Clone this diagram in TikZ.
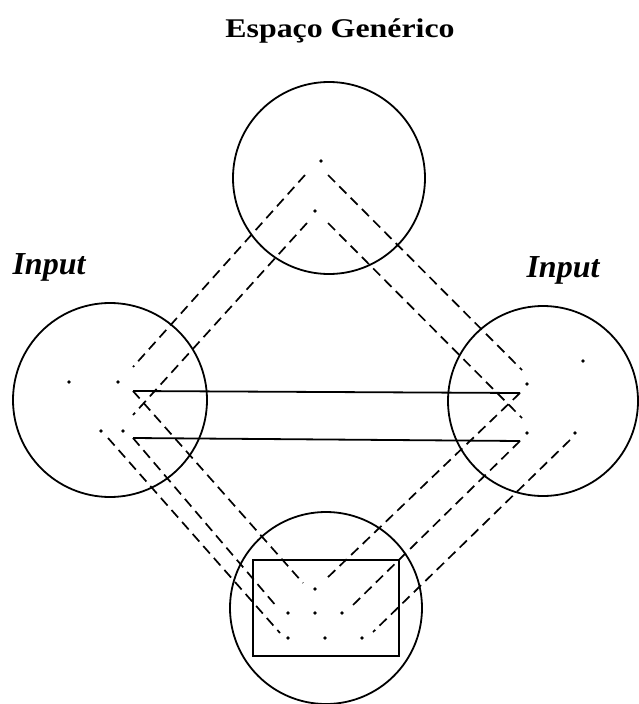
\documentclass[tikz,border=0pt]{standalone}
\usepackage{fontspec}
\setmainfont{Liberation Serif}
\begin{document}
\begin{tikzpicture}[x=1pt,y=-1pt,
  spacecirc/.style={draw, circle, line width=1.8pt, inner sep=0pt, minimum size=#1},
  dot/.style={circle, fill=black, inner sep=0pt, minimum size=3.8pt},
  link/.style={line width=1.7pt, dash pattern=on 10pt off 6pt},
  cross/.style={line width=1.8pt},
  lbl/.style={font=\fontsize{32}{36}\selectfont\bfseries\itshape, anchor=base, inner sep=0pt}]
\useasboundingbox (0,0) rectangle (638,704);
% title
\node[anchor=base, inner sep=0pt] (title) at (340,37)
  {\scalebox{1.18}[1]{\fontsize{27}{30}\selectfont\bfseries Espaço Genérico}};
\node[lbl] (inL) at (49,274) {Input};
\node[lbl] (inR) at (563,277) {Input};
% spaces
\node[spacecirc=192pt] (generic) at (329,178) {};
\node[spacecirc=194pt] (input1) at (110,400) {};
\node[spacecirc=190pt] (input2) at (543,401) {};
\node[spacecirc=192pt] (blend) at (326,608) {};
\node[draw, line width=1.8pt, minimum width=146pt, minimum height=96pt, inner sep=0pt] (blendbox) at (326,608) {};
% dots: generic
\node[dot] (g1) at (321,161) {};
\node[dot] (g2) at (315,211) {};
% dots: input 1
\node[dot] (a1) at (69,382) {};
\node[dot] (a2) at (118,382) {};
\node[dot] (a3) at (101,431) {};
\node[dot] (a4) at (123,431) {};
% dots: input 2
\node[dot] (b1) at (527,384) {};
\node[dot] (b2) at (583,361) {};
\node[dot] (b3) at (527,433) {};
\node[dot] (b4) at (575,433) {};
% dots: blend
\node[dot] (c1) at (315,589) {};
\node[dot] (c2) at (288,613) {};
\node[dot] (c3) at (315,613) {};
\node[dot] (c4) at (342,613) {};
\node[dot] (c5) at (288,638) {};
\node[dot] (c6) at (325,638) {};
\node[dot] (c7) at (362,638) {};
% line end points
\coordinate (gL1) at (305,175); \coordinate (aL1) at (133,367);
\coordinate (gL2) at (307,223); \coordinate (aL2) at (133,415);
\coordinate (gR1) at (328,175); \coordinate (bR1) at (522,370);
\coordinate (gR2) at (328,223); \coordinate (bR2) at (522,418);
\coordinate (s1a) at (133,391); \coordinate (s1b) at (520,393);
\coordinate (s2a) at (133,438); \coordinate (s2b) at (520,441);
\coordinate (aB3) at (108,438);
\coordinate (cL1) at (303,583); \coordinate (cL2) at (277,607); \coordinate (cL3) at (280,633);
\coordinate (bB3) at (570,440);
\coordinate (cR1) at (325,580); \coordinate (cR2) at (353,605); \coordinate (cR3) at (373,632);
% generic to inputs
\draw[link] (gL1) -- (aL1);
\draw[link] (gL2) -- (aL2);
\draw[link] (gR1) -- (bR1);
\draw[link] (gR2) -- (bR2);
% cross-space mapping
\draw[cross] (s1a) -- (s1b);
\draw[cross] (s2a) -- (s2b);
% inputs to blend
\draw[link] (s1a) -- (cL1);
\draw[link] (s2a) -- (cL2);
\draw[link] (aB3) -- (cL3);
\draw[link] (s1b) -- (cR1);
\draw[link] (s2b) -- (cR2);
\draw[link] (bB3) -- (cR3);
\end{tikzpicture}
\end{document}
